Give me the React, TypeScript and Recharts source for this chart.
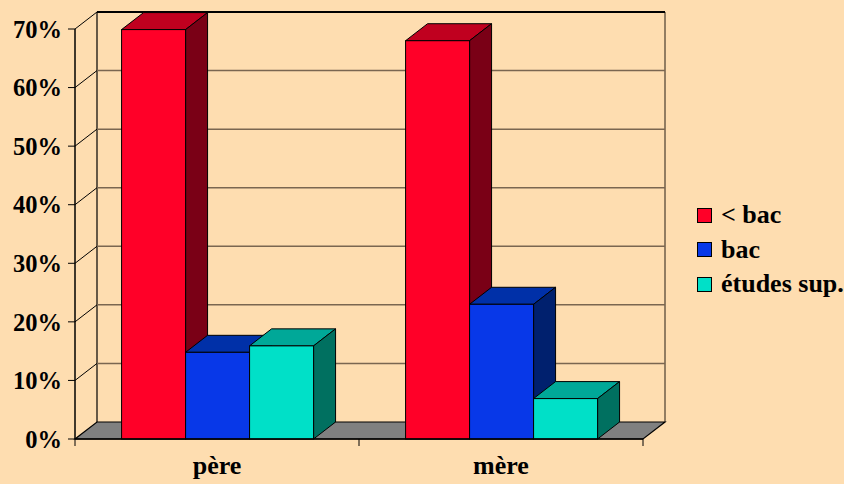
import { BarChart, Bar, XAxis, YAxis, CartesianGrid, Legend } from 'recharts';

// parents' education level, share per parent (%)
const categories = ['père', 'mère'];
const lessBac = [69.9, 68.0];
const bac = [14.8, 23.0];
const etudesSup = [15.9, 6.9];
const yTicks = [0, 10, 20, 30, 40, 50, 60, 70];

const data = categories.map((name, i) => ({
  name,
  lessBac: lessBac[i],
  bac: bac[i],
  etudesSup: etudesSup[i],
}));

// 3D depth offset
const DX = 22;
const DY = -17;
const FONT = '"Liberation Serif", "Times New Roman", serif';
const BG = '#FEDDB0';

const make3D = (front: string, top: string, side: string) => (props: any) => {
  const { x, y, width, height } = props;
  if (width == null || height == null) return <g />;
  const x2 = x + width;
  const yb = y + height;
  return (
    <g>
      <polygon
        points={`${x},${y} ${x + DX},${y + DY} ${x2 + DX},${y + DY} ${x2},${y}`}
        fill={top}
        stroke="#000"
        strokeWidth={1}
      />
      <polygon
        points={`${x2},${y} ${x2 + DX},${y + DY} ${x2 + DX},${yb + DY} ${x2},${yb}`}
        fill={side}
        stroke="#000"
        strokeWidth={1}
      />
      <rect x={x} y={y} width={width} height={height} fill={front} stroke="#000" strokeWidth={1} />
    </g>
  );
};

// back wall, left wall and floor, built from the grid's own line positions
const wallLine = (p: any) => {
  const { x1, x2, y1, index } = p;
  const pts: number[] = p.horizontalPoints || [];
  const top = pts.length ? Math.min(...pts) : p.y;
  const bottom = pts.length ? Math.max(...pts) : p.y + p.height;
  const bx1 = x1 + DX;
  const bx2 = x2 + DX;
  const by = y1 + DY;
  if (Math.abs(y1 - bottom) < 0.5) {
    return (
      <g key={`wall-${index}`}>
        <line x1={bx1} y1={top + DY} x2={bx1} y2={by} stroke="#000" strokeWidth={1.2} />
        <line x1={bx2} y1={top + DY} x2={bx2} y2={by} stroke="#6e5c48" strokeWidth={1.5} />
        <polygon
          points={`${x1},${y1} ${x2},${y1} ${bx2},${by} ${bx1},${by}`}
          fill="#808080"
          stroke="#000"
          strokeWidth={1.2}
        />
      </g>
    );
  }
  const isTop = Math.abs(y1 - top) < 0.5;
  return (
    <g key={`wall-${index}`}>
      <line x1={x1} y1={y1} x2={bx1} y2={by} stroke="#000" strokeWidth={1} />
      <line
        x1={bx1}
        y1={by}
        x2={bx2}
        y2={by}
        stroke={isTop ? '#000' : '#7a6650'}
        strokeWidth={isTop ? 2 : 1.5}
      />
    </g>
  );
};

const TICK = 7;

const CategoryTick = (props: any) => {
  const { x, y, payload, index, visibleTicksCount } = props;
  const half = payload?.offset ?? 0;
  const ay = y - TICK;
  const last = index === (visibleTicksCount ?? categories.length) - 1;
  return (
    <g>
      <line x1={x - half} y1={ay} x2={x - half} y2={ay + TICK} stroke="#000" strokeWidth={1} />
      {last && <line x1={x + half} y1={ay} x2={x + half} y2={ay + TICK} stroke="#000" strokeWidth={1} />}
      <text x={x} y={y + 28} textAnchor="middle" fontFamily={FONT} fontWeight="bold" fontSize={26} fill="#000">
        {payload.value}
      </text>
    </g>
  );
};

const LegendContent = (props: any) => {
  const items = props.payload || [];
  return (
    <div style={{ fontFamily: FONT, fontWeight: 'bold', fontSize: 26, color: '#000' }}>
      {items.map((it: any) => (
        <div key={it.value} style={{ display: 'flex', alignItems: 'center', height: 34.5 }}>
          <span
            style={{
              display: 'inline-block',
              width: 13,
              height: 13,
              background: it.color,
              border: '1px solid #000',
              marginRight: 9,
            }}
          />
          <span>{it.value}</span>
        </div>
      ))}
    </div>
  );
};

export default function App() {
  return (
    <div style={{ position: 'absolute', left: 0, top: 0, width: 844, height: 484, background: BG }}>
      <BarChart
        width={844}
        height={484}
        data={data}
        margin={{ top: 29, right: 201, bottom: 0, left: 0 }}
        barCategoryGap="16.4%"
        barGap={0}
      >
        <CartesianGrid vertical={false} horizontal={wallLine} />
        <XAxis
          dataKey="name"
          height={45}
          axisLine={{ stroke: '#000', strokeWidth: 1.5 }}
          tickLine={false}
          tickSize={TICK}
          tickMargin={0}
          tick={<CategoryTick />}
          interval={0}
        />
        <YAxis
          width={75}
          domain={[0, 70]}
          ticks={yTicks}
          interval={0}
          tickFormatter={(v) => `${v}%`}
          axisLine={{ stroke: '#000', strokeWidth: 1.5 }}
          tickLine={{ stroke: '#000' }}
          tickSize={TICK}
          tickMargin={6}
          tick={{ fontFamily: FONT, fontWeight: 'bold', fontSize: 24.5, fill: '#000' }}
        />
        <Legend
          layout="horizontal"
          verticalAlign="middle"
          align="center"
          content={<LegendContent />}
          wrapperStyle={{ left: 697, top: 198, width: 147 }}
        />
        <Bar dataKey="lessBac" name="< bac" fill="#FF0028" shape={make3D('#FF0028', '#C0001F', '#7A0016')} isAnimationActive={false} />
        <Bar dataKey="bac" name="bac" fill="#0838E8" shape={make3D('#0838E8', '#0030A8', '#00206E')} isAnimationActive={false} />
        <Bar dataKey="etudesSup" name="études sup." fill="#00E0C8" shape={make3D('#00E0C8', '#00A898', '#007060')} isAnimationActive={false} />
      </BarChart>
    </div>
  );
}
